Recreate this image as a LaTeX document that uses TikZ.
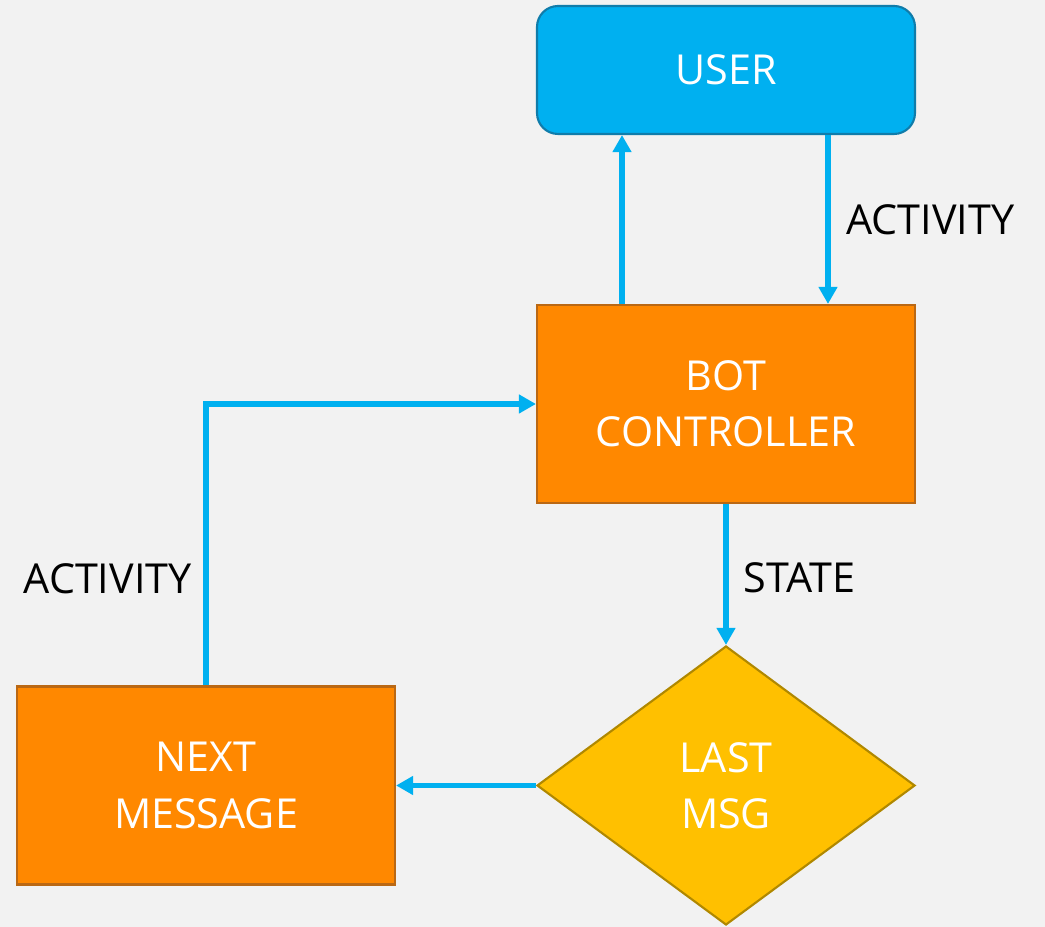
\documentclass[tikz,border=0pt]{standalone}
\usepackage{fontspec}
\setmainfont{Open Sans}
\usepackage{tikz}
\usetikzlibrary{positioning, arrows.meta, shapes.geometric}
\definecolor{fondo}{RGB}{242, 242, 242}
\definecolor{azul}{RGB}{0, 176, 240}
\definecolor{azulOsc}{RGB}{16, 124, 170}
\definecolor{naranja}{RGB}{255, 136, 0}
\definecolor{naranjaOsc}{RGB}{186, 104, 20}
\definecolor{amarillo}{RGB}{255, 192, 0}
\definecolor{amarilloOsc}{RGB}{176, 136, 0}
\tikzset{
    caja/.style={draw=naranjaOsc, fill=naranja, text=white, line width=1.2pt, minimum width=7.56cm, minimum height=3.96cm, align=center, font=\fontsize{23.5}{32}\selectfont},
    usuario/.style={draw=azulOsc, fill=azul, text=white, line width=1.2pt, rounded corners=0.42cm, minimum width=7.56cm, minimum height=2.56cm, font=\fontsize{23.5}{32}\selectfont},
    decision/.style={diamond, draw=amarilloOsc, fill=amarillo, text=white, line width=1.2pt, minimum width=7.56cm, minimum height=5.58cm, inner sep=0pt, align=center, font=\fontsize{23.5}{32}\selectfont},
    flecha/.style={azul, line width=3pt, -{Triangle[width=0.36cm, length=0.34cm]}},
    etiq/.style={text=black, font=\fontsize{23.5}{32}\selectfont},
}
\begin{document}
\begin{tikzpicture}
    \fill[fondo] (0, 0) rectangle (20.9, 18.54);
    \useasboundingbox (0, 0) rectangle (20.9, 18.54);

    \node[usuario] (user) at (14.52, 17.14) {USER};
    \node[caja] (bot) at (14.52, 10.46) {BOT\\CONTROLLER};
    \node[decision] (last) at (14.52, 2.83) {LAST\\MSG};
    \node[caja] (next) at (4.12, 2.83) {NEXT\\MESSAGE};

    \draw[flecha] ([xshift=-2.08cm]bot.north) -- ([xshift=-2.08cm]user.south);
    \draw[flecha] ([xshift=2.04cm]user.south) -- node[etiq, right=0.2cm] {ACTIVITY} ([xshift=2.04cm]bot.north);
    \draw[flecha] (bot.south) -- node[etiq, right=0.18cm, pos=0.52] {STATE} (last.north);
    \draw[flecha] (last.west) -- (next.east);
    \draw[flecha] (next.north) |- node[etiq, left=0.12cm, pos=0.19] {ACTIVITY} (bot.west);
\end{tikzpicture}
\end{document}
